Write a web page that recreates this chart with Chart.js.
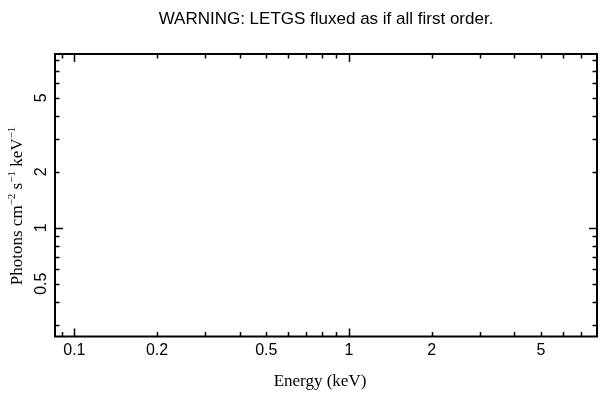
<!DOCTYPE html>
<html>
<head>
<meta charset="utf-8">
<script src="https://cdn.jsdelivr.net/npm/chart.js@4.4.0/dist/chart.umd.min.js"></script>
<style>
  html, body { margin: 0; background: #fff; }
  #wrap { width: 608px; height: 399px; }
</style>
</head>
<body>
<div id="wrap"><canvas id="spec"></canvas></div>
<script>
// axis ranges (keV, photons cm^-2 s^-1 keV^-1)
const xRange = [0.085, 8.0];
const yRange = [0.26, 8.6];
// tick marks (every 1..9 multiple inside the range) and the labelled ones
const xTicks = [0.09, 0.1, 0.2, 0.3, 0.4, 0.5, 0.6, 0.7, 0.8, 0.9, 1, 2, 3, 4, 5, 6, 7];
const xLabels = [0.1, 0.2, 0.5, 1, 2, 5];
const yTicks = [0.3, 0.4, 0.5, 0.6, 0.7, 0.8, 0.9, 1, 2, 3, 4, 5, 6, 7, 8];
const yLabels = [0.5, 1, 2, 5];
// no spectrum plotted
const specPoints = [];

const isDecade = v => Math.abs(Math.log10(v) - Math.round(Math.log10(v))) < 1e-6;

const framePlugin = {
  id: 'frame',
  afterDraw(chart) {
    const ctx = chart.ctx;
    const { left, right, top, bottom } = chart.chartArea;
    const xs = chart.scales.x, ys = chart.scales.y;
    ctx.save();
    ctx.strokeStyle = '#000';
    ctx.lineWidth = 2;
    ctx.strokeRect(left, top, right - left, bottom - top);

    ctx.lineWidth = 1.5;
    ctx.beginPath();
    xTicks.forEach(v => {
      const px = Math.round(xs.getPixelForValue(v)) + 0.5;
      const len = isDecade(v) ? 8 : 4.5;
      ctx.moveTo(px, bottom); ctx.lineTo(px, bottom - len);
      ctx.moveTo(px, top); ctx.lineTo(px, top + len);
    });
    yTicks.forEach(v => {
      const py = Math.round(ys.getPixelForValue(v)) + 0.5;
      const len = isDecade(v) ? 8 : 4.5;
      ctx.moveTo(left, py); ctx.lineTo(left + len, py);
      ctx.moveTo(right, py); ctx.lineTo(right - len, py);
    });
    ctx.stroke();

    ctx.fillStyle = '#000';
    ctx.font = '16px "Liberation Sans", Arial, sans-serif';
    ctx.textAlign = 'center';
    ctx.textBaseline = 'alphabetic';
    xLabels.forEach(v => ctx.fillText(String(v), xs.getPixelForValue(v), 355));
    yLabels.forEach(v => {
      ctx.save();
      ctx.translate(46, ys.getPixelForValue(v));
      ctx.rotate(-Math.PI / 2);
      ctx.fillText(String(v), 0, 0);
      ctx.restore();
    });

    // axis titles
    ctx.font = '17px "Liberation Serif", "Times New Roman", serif';
    ctx.fillText('Energy (keV)', 320, 386);

    ctx.save();
    ctx.translate(22, 206);
    ctx.rotate(-Math.PI / 2);
    const parts = [['Photons cm', 0], ['\u22122', 1], [' s', 0], ['\u22121', 1], [' keV', 0], ['\u22121', 1]];
    const big = '17px "Liberation Serif", serif', small = '11px "Liberation Serif", serif';
    let w = 0;
    parts.forEach(([t, sup]) => { ctx.font = sup ? small : big; w += ctx.measureText(t).width; });
    let x0 = -w / 2;
    ctx.textAlign = 'left';
    parts.forEach(([t, sup]) => {
      ctx.font = sup ? small : big;
      ctx.fillText(t, x0, sup ? -7 : 0);
      x0 += ctx.measureText(t).width;
    });
    ctx.restore();
    ctx.restore();
  }
};

new Chart(document.getElementById('spec'), {
  type: 'scatter',
  data: { datasets: [{ data: specPoints, borderColor: '#000', pointRadius: 0 }] },
  options: {
    responsive: true,
    maintainAspectRatio: false,
    animation: false,
    devicePixelRatio: 1,
    layout: { padding: { left: 55, right: 11, top: 0, bottom: 62.5 } },
    plugins: {
      legend: { display: false },
      tooltip: { enabled: false },
      title: {
        display: true,
        text: 'WARNING: LETGS fluxed as if all first order.',
        color: '#000',
        font: { family: '"Liberation Sans", Arial, sans-serif', size: 17, weight: 'normal' },
        padding: { top: 8.8, bottom: 24.8 }
      }
    },
    scales: {
      x: { type: 'logarithmic', min: xRange[0], max: xRange[1], display: false },
      y: { type: 'logarithmic', min: yRange[0], max: yRange[1], display: false }
    }
  },
  plugins: [framePlugin]
});
</script>
</body>
</html>
